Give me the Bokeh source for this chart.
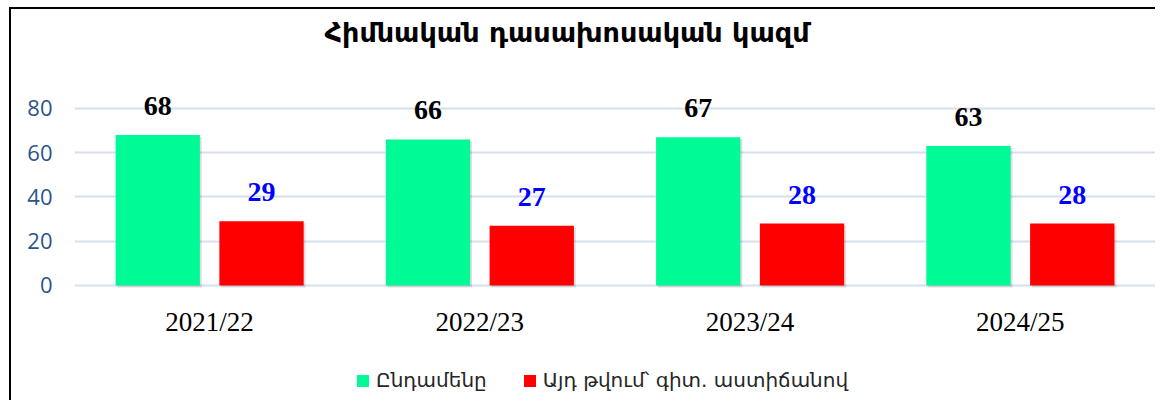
from bokeh.plotting import figure
from bokeh.models import ColumnDataSource, Legend, LegendItem, LabelSet, FixedTicker
from bokeh.transform import dodge
from bokeh.embed import file_html
from bokeh.resources import INLINE

# ---- data ----
years = ["2021/22", "2022/23", "2023/24", "2024/25"]
total = [68, 66, 67, 63]
with_degree = [29, 27, 28, 28]
series_names = ["Ընդամենը", "Այդ թվում՝ գիտ. աստիճանով"]
y_ticks = [0, 20, 40, 60, 80]
title_text = "Հիմնական դասախոսական կազմ"

GREEN = "#00FA96"
RED = "#FF0000"

SHADOW_DROP = 0.9  # data units (~2px) for the soft bar shadow

src = ColumnDataSource(dict(
    years=years,
    total=total,
    with_degree=with_degree,
    total_sh=[v - SHADOW_DROP for v in total],
    deg_sh=[v - SHADOW_DROP for v in with_degree],
    total_lbl=[str(v) for v in total],
    deg_lbl=[str(v) for v in with_degree],
))

# frame runs below zero so the legend can sit inside it; the x axis is pinned at y=0
p = figure(
    x_range=years, y_range=(-52.0, 106.2),
    frame_width=1081, frame_height=350,
    min_border_left=63, min_border_right=0, min_border_top=41, min_border_bottom=0,
    output_backend="svg", toolbar_location=None,
    title=title_text,
)
p.styles = {"margin-left": "9px", "margin-top": "7px",
            "border-left": "2px solid #000", "border-top": "2px solid #000"}

p.title.align = "left"
p.title.offset = 250
p.title.vertical_align = "bottom"
p.title.text_font = "DejaVu Sans"
p.title.text_font_size = "27px"
p.title.text_font_style = "bold"
p.title.text_color = "#000000"
p.title.standoff = 5

p.outline_line_color = None
p.background_fill_color = "white"
p.border_fill_color = "white"

# grid
p.xgrid.grid_line_color = None
p.ygrid.ticker = FixedTicker(ticks=y_ticks)
p.ygrid.grid_line_color = "#d6dfee"
p.ygrid.grid_line_width = 2

# y axis
p.yaxis.ticker = FixedTicker(ticks=y_ticks)
p.yaxis.axis_line_color = None
p.yaxis.major_tick_line_color = None
p.yaxis.minor_tick_line_color = None
p.yaxis.major_tick_out = 0
p.yaxis.major_tick_in = 0
p.yaxis.minor_tick_out = 0
p.yaxis.major_label_standoff = 22
p.yaxis.major_label_text_font = "Open Sans"
p.yaxis.major_label_text_font_size = "22px"
p.yaxis.major_label_text_color = "#2b5488"

# x axis (pinned at y = 0)
p.xaxis.fixed_location = 0
p.xaxis.axis_line_color = None
p.xaxis.major_tick_line_color = None
p.xaxis.minor_tick_line_color = None
p.xaxis.major_tick_out = 0
p.xaxis.major_tick_in = 0
p.xaxis.major_label_standoff = 22
p.xaxis.major_label_text_font = "Liberation Serif"
p.xaxis.major_label_text_font_size = "27px"
p.xaxis.major_label_text_color = "#000000"

off = 0.192
w = 0.312
sh = 0.007  # ~2px shadow shift

# soft shadows behind the bars
p.vbar(x=dodge("years", -off + sh, range=p.x_range), top="total_sh", bottom=-SHADOW_DROP,
       width=w, source=src, fill_color="#000000", fill_alpha=0.13, line_color=None)
p.vbar(x=dodge("years", off + sh, range=p.x_range), top="deg_sh", bottom=-SHADOW_DROP,
       width=w, source=src, fill_color="#000000", fill_alpha=0.13, line_color=None)

r1 = p.vbar(x=dodge("years", -off, range=p.x_range), top="total", width=w,
            source=src, fill_color=GREEN, line_color=None)
r2 = p.vbar(x=dodge("years", off, range=p.x_range), top="with_degree", width=w,
            source=src, fill_color=RED, line_color=None)

lab1 = LabelSet(x=dodge("years", -off, range=p.x_range), y="total", text="total_lbl",
                source=src, text_align="center", text_baseline="alphabetic", y_offset=20,
                text_font="Liberation Serif", text_font_style="bold", text_font_size="28px",
                text_color="#000000")
lab2 = LabelSet(x=dodge("years", off, range=p.x_range), y="with_degree", text="deg_lbl",
                source=src, text_align="center", text_baseline="alphabetic", y_offset=20,
                text_font="Liberation Serif", text_font_style="bold", text_font_size="28px",
                text_color="#0000FF")
p.add_layout(lab1)
p.add_layout(lab2)

legend = Legend(items=[LegendItem(label=series_names[0], renderers=[r1]),
                       LegendItem(label=series_names[1], renderers=[r2])],
                orientation="horizontal", location=(281, 8))
legend.border_line_color = None
legend.background_fill_color = None
legend.background_fill_alpha = 0
legend.glyph_width = 15
legend.glyph_height = 15
legend.label_standoff = 6
legend.spacing = 35
legend.padding = 10
legend.margin = 0
legend.label_text_font = "DejaVu Sans"
legend.label_text_font_size = "20px"
legend.label_text_color = "#262626"
p.add_layout(legend, "center")

open("out.html", "w").write(file_html(p, INLINE))
